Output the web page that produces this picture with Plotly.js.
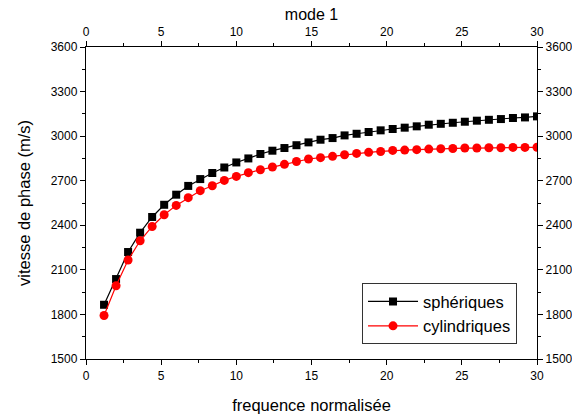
<!DOCTYPE html>
<html>
<head>
<meta charset="utf-8">
<script src="https://cdn.plot.ly/plotly-3.0.1.min.js"></script>
<style>html,body{margin:0;padding:0;background:#fff;}#chart{width:572px;height:419px;}</style>
</head>
<body>
<div id="chart"></div>
<script>
const freq = [1.2,2.0,2.8,3.6,4.4,5.2,6.0,6.8,7.6,8.4,9.2,10.0,10.8,11.6,12.4,13.2,14.0,14.8,15.6,16.4,17.2,18.0,18.8,19.6,20.4,21.2,22.0,22.8,23.6,24.4,25.2,26.0,26.8,27.6,28.4,29.2,30.0];
const spheriques = [1865,2038,2220,2350,2456,2538,2606,2665,2711,2752,2789,2823,2850,2880,2902,2920,2939,2958,2976,2987,3005,3016,3028,3039,3048,3057,3066,3077,3083,3090,3097,3104,3110,3115,3122,3126,3133];
const cylindriques = [1793,1993,2166,2296,2392,2471,2534,2586,2633,2666,2702,2729,2754,2774,2792,2810,2829,2846,2855,2864,2875,2884,2891,2897,2904,2906,2909,2913,2915,2917,2920,2920,2922,2922,2924,2924,2925];
const xTitle = "frequence normalisée";
const yTitle = "vitesse de phase (m/s)";
const topTitle = "mode 1";
const names = ["sphériques","cylindriques"];

const fam = "Arial, 'Liberation Sans', sans-serif";
const font = {family: fam, color: "#000"};
const traces = [
  {x: freq, y: spheriques, name: names[0], type: "scatter", mode: "lines+markers",
   line: {color: "#000", width: 1.2}, marker: {symbol: "square", size: 8, color: "#000"}},
  {x: freq, y: cylindriques, name: names[1], type: "scatter", mode: "lines+markers",
   line: {color: "#ff0000", width: 1.2}, marker: {symbol: "circle", size: 9, color: "#ff0000"}},
  {x: freq, y: spheriques, xaxis: "x2", yaxis: "y2", type: "scatter", mode: "lines",
   opacity: 0, showlegend: false, hoverinfo: "skip"}
];
const axBase = {
  showgrid: false, zeroline: false, showline: true, linecolor: "#000", linewidth: 1.2,
  ticks: "outside", ticklen: 5, tickwidth: 1, tickcolor: "#000",
  tickfont: {family: fam, color: "#000", size: 12}
};
const layout = {
  width: 572, height: 419,
  margin: {l: 86, r: 35, t: 47, b: 60},
  paper_bgcolor: "#fff", plot_bgcolor: "#fff",
  font: font,
  showlegend: true,
  legend: {x: 0.612, y: 0.243, xanchor: "left", yanchor: "top",
    bgcolor: "#fff", bordercolor: "#333", borderwidth: 1, itemwidth: 50,
    font: {family: fam, color: "#000", size: 16.5}, tracegroupgap: 0},
  xaxis: Object.assign({}, axBase, {range: [0, 30], tick0: 0, dtick: 5,
    minor: {ticks: "outside", ticklen: 3, dtick: 2.5, tickcolor: "#000"},
    title: {text: xTitle, font: {family: fam, color: "#000", size: 16.5}, standoff: 17}}),
  yaxis: Object.assign({}, axBase, {range: [1500, 3600], tick0: 1500, dtick: 300,
    minor: {ticks: "outside", ticklen: 3, dtick: 150, tickcolor: "#000"},
    title: {text: yTitle, font: {family: fam, color: "#000", size: 16.5}, standoff: 16}}),
  xaxis2: Object.assign({}, axBase, {range: [0, 30], tick0: 0, dtick: 5, overlaying: "x", side: "top",
    minor: {ticks: "outside", ticklen: 3, dtick: 2.5, tickcolor: "#000"},
    title: {text: topTitle, font: {family: fam, color: "#000", size: 16}, standoff: 0}}),
  yaxis2: Object.assign({}, axBase, {range: [1500, 3600], tick0: 1500, dtick: 300, overlaying: "y", side: "right",
    minor: {ticks: "outside", ticklen: 3, dtick: 150, tickcolor: "#000"}})
};
Plotly.newPlot("chart", traces, layout, {staticPlot: true, displayModeBar: false});
</script>
</body>
</html>
